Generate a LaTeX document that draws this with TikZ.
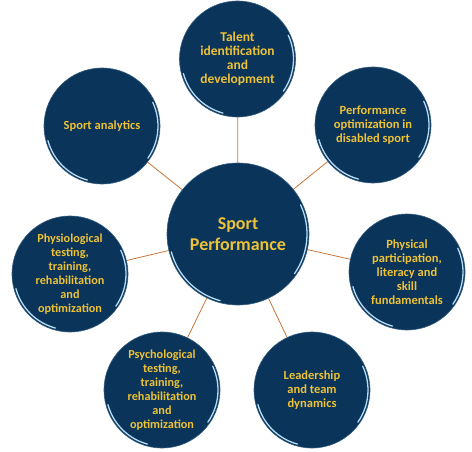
\documentclass[tikz,border=0pt]{standalone}
\usepackage{fontspec}
\setmainfont{Carlito}
\usetikzlibrary{calc,backgrounds}
\definecolor{navy}{HTML}{0A3459}
\definecolor{gold}{HTML}{EDC236}
\definecolor{spoke}{HTML}{C8753A}
\definecolor{rimhl}{HTML}{B5DBF5}
\tikzset{
  glint/.style={path picture={
    \draw[rimhl, line width=1.3pt, line cap=round]
      let \p1=(path picture bounding box.north east),
          \p2=(path picture bounding box.center),
          \n1={\x1-\x2-2pt} in
      ($(\p2)+(195:\n1)$) arc[start angle=195, end angle=255, radius=\n1]
      ($(\p2)+(-35:\n1)$) arc[start angle=-35, end angle=25, radius=\n1];
  }},
  bubble/.style={circle, fill=navy, draw=navy!75!rimhl, line width=0.6pt, text=gold,
                 align=center, font=\bfseries\fontsize{12.5}{14}\selectfont,
                 minimum size=116pt, inner sep=0pt, glint},
  bubbleb/.style={bubble, font=\bfseries\fontsize{13.5}{14}\selectfont},
  bubblec/.style={bubble, font=\bfseries\fontsize{12.2}{14}\selectfont},
  hub/.style={bubble, minimum size=142pt, font=\bfseries\fontsize{18}{21}\selectfont},
  spokeln/.style={draw=spoke, line width=0.8pt},
}
\begin{document}
\begin{tikzpicture}[x=1pt,y=1pt]
\useasboundingbox (0,0) rectangle (472,451);
\node[hub] (hub) at (238,217) {Sport\\Performance};
\node[bubbleb] (talent) at (237.5,392) {Talent\\identification\\and\\development};
\node[bubble] (disab) at (373,326) {Performance\\optimization in\\disabled sport};
\node[bubble] (phys) at (407,179) {Physical\\participation,\\literacy and\\skill\\fundamentals};
\node[bubble] (lead) at (312,61) {Leadership\\and team\\dynamics};
\node[bubblec] (psych) at (162,61) {Psychological\\testing,\\training,\\rehabilitation\\and\\optimization};
\node[bubblec] (physio) at (70,177) {Physiological\\testing,\\training,\\rehabilitation\\and\\optimization};
\node[bubble] (analyt) at (102,325) {Sport analytics};
\begin{scope}[on background layer]
\foreach \b in {talent,disab,phys,lead,psych,physio,analyt}\draw[spokeln] (hub) -- (\b);
\end{scope}
\end{tikzpicture}
\end{document}
